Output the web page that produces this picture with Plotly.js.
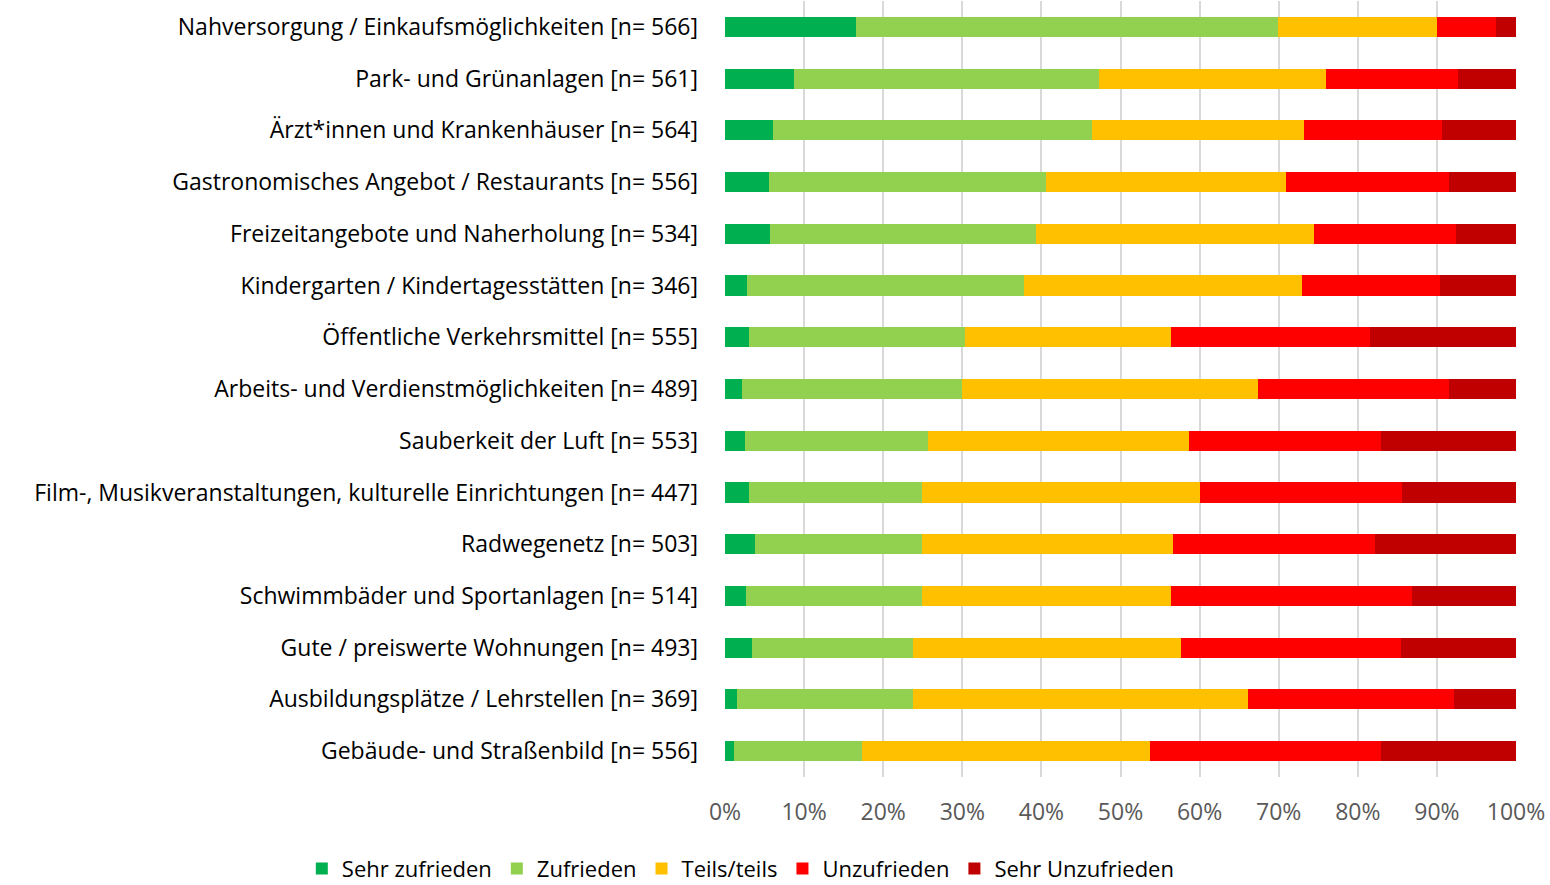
<!DOCTYPE html>
<html>
<head>
<meta charset="utf-8">
<script src="https://cdn.plot.ly/plotly-3.0.1.min.js"></script>
<style>html,body{margin:0;padding:0;background:#fff;}#chart{width:1550px;height:885px;}</style>
</head>
<body>
<div id="chart"></div>
<script>
const categories = [
  "Nahversorgung / Einkaufsmöglichkeiten [n= 566]",
  "Park- und Grünanlagen [n= 561]",
  "Ärzt*innen und Krankenhäuser [n= 564]",
  "Gastronomisches Angebot / Restaurants [n= 556]",
  "Freizeitangebote und Naherholung [n= 534]",
  "Kindergarten / Kindertagesstätten [n= 346]",
  "Öffentliche Verkehrsmittel [n= 555]",
  "Arbeits- und Verdienstmöglichkeiten [n= 489]",
  "Sauberkeit der Luft [n= 553]",
  "Film-, Musikveranstaltungen, kulturelle Einrichtungen [n= 447]",
  "Radwegenetz [n= 503]",
  "Schwimmbäder und Sportanlagen [n= 514]",
  "Gute / preiswerte Wohnungen [n= 493]",
  "Ausbildungsplätze / Lehrstellen [n= 369]",
  "Gebäude- und Straßenbild [n= 556]"
];
const sehrZufrieden  = [16.5, 8.7, 6.1, 5.6, 5.7, 2.8, 3.0, 2.1, 2.5, 3.0, 3.8, 2.7, 3.4, 1.5, 1.2];
const zufrieden      = [53.4, 38.6, 40.3, 35.0, 33.6, 35.0, 27.4, 27.9, 23.2, 21.9, 21.1, 22.2, 20.4, 22.3, 16.1];
const teilsTeils     = [20.1, 28.7, 26.8, 30.3, 35.2, 35.1, 26.0, 37.4, 32.9, 35.2, 31.7, 31.5, 33.8, 42.3, 36.4];
const unzufrieden    = [7.5, 16.7, 17.4, 20.6, 17.9, 17.5, 25.2, 24.1, 24.3, 25.5, 25.6, 30.5, 27.9, 26.1, 29.2];
const sehrUnzufrieden= [2.5, 7.3, 9.4, 8.5, 7.6, 9.6, 18.4, 8.5, 17.1, 14.4, 17.8, 13.1, 14.5, 7.8, 17.1];
const seriesNames = ["Sehr zufrieden", "Zufrieden", "Teils/teils", "Unzufrieden", "Sehr Unzufrieden"];
const xTicks = [0, 10, 20, 30, 40, 50, 60, 70, 80, 90, 100];

const colors = ["#00b050", "#92d050", "#ffc000", "#ff0000", "#c00000"];
const seriesValues = [sehrZufrieden, zufrieden, teilsTeils, unzufrieden, sehrUnzufrieden];

const traces = seriesValues.map((vals, i) => ({
  type: "bar",
  orientation: "h",
  name: seriesNames[i],
  x: vals,
  y: categories,
  marker: {color: colors[i], line: {width: 0}},
  hoverinfo: "x+name"
}));

const font = "'Open Sans', 'Noto Sans', sans-serif";
const layout = {
  width: 1550,
  height: 885,
  barmode: "stack",
  bargap: 0.61,
  margin: {l: 725, r: 34, t: 1, b: 108, autoexpand: false},
  paper_bgcolor: "#ffffff",
  plot_bgcolor: "#ffffff",
  showlegend: true,
  legend: {
    orientation: "h",
    x: -0.535, xanchor: "left",
    y: -0.091, yanchor: "top",
    font: {family: font, size: 22, color: "#000000"},
    traceorder: "normal",
    itemwidth: 30
  },
  xaxis: {
    range: [0, 100],
    tickvals: xTicks,
    ticktext: xTicks.map(v => v + "%"),
    showgrid: true,
    gridcolor: "#d9d9d9",
    gridwidth: 2,
    zeroline: false,
    showline: false,
    ticks: "",
    ticklabelstandoff: 19,
    tickfont: {family: font, size: 23, color: "#595959"},
    fixedrange: true
  },
  yaxis: {
    type: "category",
    categoryorder: "array",
    categoryarray: categories,
    autorange: "reversed",
    showgrid: false,
    zeroline: false,
    showline: false,
    ticks: "",
    ticklabelstandoff: 26,
    tickfont: {family: font, size: 23, color: "#000000"},
    fixedrange: true
  }
};

Plotly.newPlot("chart", traces, layout, {displayModeBar: false, staticPlot: true});
</script>
</body>
</html>
